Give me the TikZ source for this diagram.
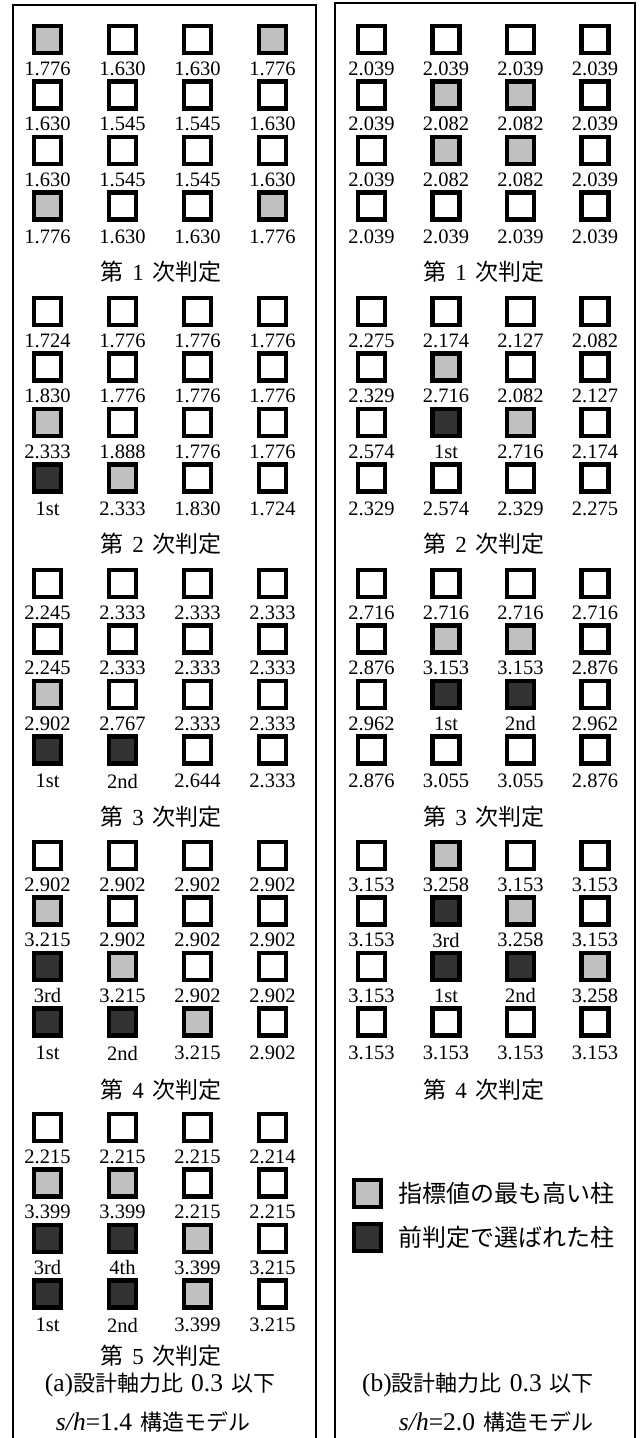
\documentclass[tikz,border=0pt]{standalone}
\usepackage{fontspec}
\setmainfont{Liberation Serif}
\newfontfamily\jp{Noto Sans CJK JP}
\definecolor{cw}{HTML}{FFFFFF}
\definecolor{cg}{HTML}{C0C0C0}
\definecolor{cd}{HTML}{333333}
\tikzset{
 sq/.style={draw=black, line width=4.5pt, minimum size=27pt, inner sep=0pt, fill=c#1},
 lab/.style={inner sep=0pt, font=\fontsize{20.5}{20.5}\selectfont},
 ttl/.style={inner sep=0pt, font=\fontsize{23}{23}\selectfont},
 panelframe/.style={draw=black, line width=2pt},
 legtxt/.style={anchor=west, inner sep=0pt, font=\jp\fontsize{24}{24}\selectfont},
 captxt/.style={inner sep=0pt, font=\fontsize{25.5}{25.5}\selectfont},
}
\newcommand\crow[6]{%
 \foreach \t/\l [count=\c] in {#6} {%
  \pgfmathsetmacro\xx{#2+#3*(\c-1)}%
  \pgfmathsetmacro\yy{39.5+272*#4+55.5*#5}%
  \pgfmathsetmacro\ly{\yy+(#5==3 ? 31 : 29)}%
  \node[sq=\t] (#1-#4-#5-\c) at (\xx,\yy) {};
  \node[lab] (#1l-#4-#5-\c) at (\xx,\ly) {\l};
 }}
\newcommand\jpt{\jp\fontsize{23}{23}\selectfont}
\newcommand\hantei[1]{{\jpt 第}\hspace{8.5pt}#1\hspace{8.5pt}{\jpt 次判定}}
\newcommand\jps{\jp\fontsize{22}{22}\selectfont}
\begin{document}
\begin{tikzpicture}[x=1pt,y=-1pt]
\useasboundingbox (0,0) rectangle (640,1438);
\coordinate (fa1) at (13,1445); \coordinate (fa2) at (13,5);
\coordinate (fa3) at (316,5); \coordinate (fa4) at (316,1445);
\coordinate (fb1) at (335,1445); \coordinate (fb2) at (335,3);
\coordinate (fb3) at (635,3); \coordinate (fb4) at (635,1445);
\draw[panelframe] (fa1) -- (fa2) -- (fa3) -- (fa4);
\draw[panelframe] (fb1) -- (fb2) -- (fb3) -- (fb4);
% panel (a)
\crow{a}{47.5}{75}{0}{0}{g/1.776,w/1.630,w/1.630,g/1.776}
\crow{a}{47.5}{75}{0}{1}{w/1.630,w/1.545,w/1.545,w/1.630}
\crow{a}{47.5}{75}{0}{2}{w/1.630,w/1.545,w/1.545,w/1.630}
\crow{a}{47.5}{75}{0}{3}{g/1.776,w/1.630,w/1.630,g/1.776}
\crow{a}{47.5}{75}{1}{0}{w/1.724,w/1.776,w/1.776,w/1.776}
\crow{a}{47.5}{75}{1}{1}{w/1.830,w/1.776,w/1.776,w/1.776}
\crow{a}{47.5}{75}{1}{2}{g/2.333,w/1.888,w/1.776,w/1.776}
\crow{a}{47.5}{75}{1}{3}{d/1st,g/2.333,w/1.830,w/1.724}
\crow{a}{47.5}{75}{2}{0}{w/2.245,w/2.333,w/2.333,w/2.333}
\crow{a}{47.5}{75}{2}{1}{w/2.245,w/2.333,w/2.333,w/2.333}
\crow{a}{47.5}{75}{2}{2}{g/2.902,w/2.767,w/2.333,w/2.333}
\crow{a}{47.5}{75}{2}{3}{d/1st,d/2nd,w/2.644,w/2.333}
\crow{a}{47.5}{75}{3}{0}{w/2.902,w/2.902,w/2.902,w/2.902}
\crow{a}{47.5}{75}{3}{1}{g/3.215,w/2.902,w/2.902,w/2.902}
\crow{a}{47.5}{75}{3}{2}{d/3rd,g/3.215,w/2.902,w/2.902}
\crow{a}{47.5}{75}{3}{3}{d/1st,d/2nd,g/3.215,w/2.902}
\crow{a}{47.5}{75}{4}{0}{w/2.215,w/2.215,w/2.215,w/2.214}
\crow{a}{47.5}{75}{4}{1}{g/3.399,g/3.399,w/2.215,w/2.215}
\crow{a}{47.5}{75}{4}{2}{d/3rd,d/4th,g/3.399,w/3.215}
\crow{a}{47.5}{75}{4}{3}{d/1st,d/2nd,g/3.399,w/3.215}
% panel (b)
\crow{b}{371.5}{74.5}{0}{0}{w/2.039,w/2.039,w/2.039,w/2.039}
\crow{b}{371.5}{74.5}{0}{1}{w/2.039,g/2.082,g/2.082,w/2.039}
\crow{b}{371.5}{74.5}{0}{2}{w/2.039,g/2.082,g/2.082,w/2.039}
\crow{b}{371.5}{74.5}{0}{3}{w/2.039,w/2.039,w/2.039,w/2.039}
\crow{b}{371.5}{74.5}{1}{0}{w/2.275,w/2.174,w/2.127,w/2.082}
\crow{b}{371.5}{74.5}{1}{1}{w/2.329,g/2.716,w/2.082,w/2.127}
\crow{b}{371.5}{74.5}{1}{2}{w/2.574,d/1st,g/2.716,w/2.174}
\crow{b}{371.5}{74.5}{1}{3}{w/2.329,w/2.574,w/2.329,w/2.275}
\crow{b}{371.5}{74.5}{2}{0}{w/2.716,w/2.716,w/2.716,w/2.716}
\crow{b}{371.5}{74.5}{2}{1}{w/2.876,g/3.153,g/3.153,w/2.876}
\crow{b}{371.5}{74.5}{2}{2}{w/2.962,d/1st,d/2nd,w/2.962}
\crow{b}{371.5}{74.5}{2}{3}{w/2.876,w/3.055,w/3.055,w/2.876}
\crow{b}{371.5}{74.5}{3}{0}{w/3.153,g/3.258,w/3.153,w/3.153}
\crow{b}{371.5}{74.5}{3}{1}{w/3.153,d/3rd,g/3.258,w/3.153}
\crow{b}{371.5}{74.5}{3}{2}{w/3.153,d/1st,d/2nd,g/3.258}
\crow{b}{371.5}{74.5}{3}{3}{w/3.153,w/3.153,w/3.153,w/3.153}
% titles
\node[ttl] (ta1) at (161,272) {\hantei{1}};
\node[ttl] (ta2) at (161,544) {\hantei{2}};
\node[ttl] (ta3) at (161,817) {\hantei{3}};
\node[ttl] (ta4) at (161,1090) {\hantei{4}};
\node[ttl] (ta5) at (161,1356) {\hantei{5}};
\node[ttl] (tb1) at (484,272) {\hantei{1}};
\node[ttl] (tb2) at (484,544) {\hantei{2}};
\node[ttl] (tb3) at (484,817) {\hantei{3}};
\node[ttl] (tb4) at (484,1090) {\hantei{4}};
% legend
\node[sq=g] (lg1) at (367.5,1193.5) {};
\node[sq=d] (lg2) at (367.5,1237.5) {};
\node[legtxt] (lt1) at (398,1193.5) {指標値の最も高い柱};
\node[legtxt] (lt2) at (398,1237.5) {前判定で選ばれた柱};
% captions
\node[captxt] (ca1) at (160,1385) {(a){\jps 設計軸力比}\hspace{8pt}0.3\hspace{8pt}{\jps 以下}};
\node[captxt] (ca2) at (153,1422) {\textit{s/h}=1.4\hspace{8pt}{\jps 構造モデル}};
\node[captxt] (cb1) at (478,1385) {(b){\jps 設計軸力比}\hspace{8pt}0.3\hspace{8pt}{\jps 以下}};
\node[captxt] (cb2) at (496,1422) {\textit{s/h}=2.0\hspace{8pt}{\jps 構造モデル}};
\end{tikzpicture}
\end{document}
